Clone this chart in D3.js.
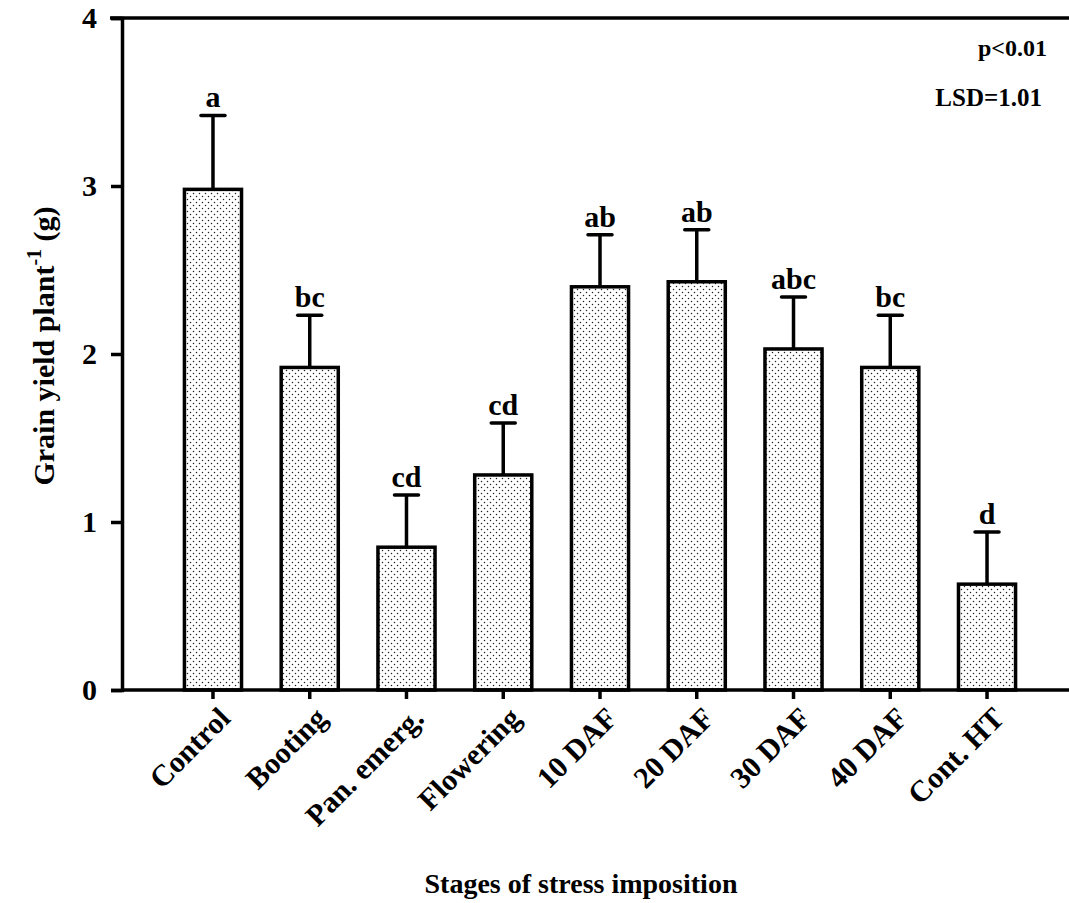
<!DOCTYPE html>
<html><head><meta charset="utf-8">
<script src="https://cdn.jsdelivr.net/npm/d3@7"></script>
<style>body{margin:0;background:#fff}svg{display:block}text{font-family:"Liberation Serif","Times New Roman",serif;font-weight:bold}</style>
</head><body><svg id="c" width="1069" height="903"></svg>
<script>
const categories = ["Control","Booting","Pan. emerg.","Flowering","10 DAF","20 DAF","30 DAF","40 DAF","Cont. HT"];
const yieldValues = [2.98, 1.92, 0.85, 1.28, 2.40, 2.43, 2.03, 1.92, 0.63];
const errorValues = [0.44, 0.31, 0.31, 0.31, 0.31, 0.31, 0.31, 0.31, 0.31];
const letters = ["a","bc","cd","cd","ab","ab","abc","bc","d"];
const yTicks = [0,1,2,3,4];

const svg = d3.select("#c");
const y = d3.scaleLinear().domain([0,4]).range([690,18]);
const x = d3.scaleBand().domain(categories).range([164.6,1035.4]).paddingInner(0.41).paddingOuter(0.205);

const defs = svg.append("defs");
const pat = defs.append("pattern").attr("id","dots").attr("patternUnits","userSpaceOnUse").attr("width",6).attr("height",6);
pat.append("rect").attr("width",6).attr("height",6).attr("fill","#fff");
pat.append("circle").attr("cx",1.5).attr("cy",1.5).attr("r",0.75).attr("fill","#222");
pat.append("circle").attr("cx",4.5).attr("cy",4.5).attr("r",0.75).attr("fill","#222");

const data = categories.map((c,i)=>({c, v:yieldValues[i], e:errorValues[i], l:letters[i]}));

// error bars
const eb = svg.append("g");
data.forEach(d=>{
  const cx = x(d.c)+x.bandwidth()/2;
  eb.append("line").attr("x1",cx).attr("x2",cx).attr("y1",y(d.v)).attr("y2",y(d.v+d.e)).attr("stroke","#000").attr("stroke-width",3.5);
  eb.append("line").attr("x1",cx-12).attr("x2",cx+12).attr("y1",y(d.v+d.e)).attr("y2",y(d.v+d.e)).attr("stroke","#000").attr("stroke-width",3.5).attr("stroke-linecap","round");
  eb.append("text").attr("x",cx).attr("y",y(d.v+d.e)-8).attr("text-anchor","middle").attr("font-size",30).text(d.l);
});

// bars
svg.append("g").selectAll("rect").data(data).join("rect")
  .attr("x",d=>x(d.c)).attr("width",x.bandwidth())
  .attr("y",d=>y(d.v)).attr("height",d=>y(0)-y(d.v))
  .attr("fill","url(#dots)").attr("stroke","#000").attr("stroke-width",3.5);

// top frame line
svg.append("line").attr("x1",110).attr("x2",1069).attr("y1",y(4)).attr("y2",y(4)).attr("stroke","#000").attr("stroke-width",3.5);

// y axis
const ya = svg.append("g").attr("transform","translate(122,0)")
  .call(d3.axisLeft(y).tickValues(yTicks).tickFormat(d3.format("d")).tickSize(11).tickPadding(14));
ya.select(".domain").attr("stroke-width",3.5);
ya.selectAll(".tick line").attr("stroke-width",3.5);
ya.selectAll("text").attr("font-size",30).attr("font-family","Liberation Serif").attr("font-weight","bold").attr("fill","#000");

// x axis
const xa = svg.append("g").attr("transform","translate(0,690)")
  .call(d3.axisBottom(x).tickSize(9).tickSizeOuter(0).tickPadding(0));
xa.select(".domain").attr("d","M122,0H1069").attr("stroke-width",3.5);
xa.selectAll(".tick line").attr("stroke-width",3.5);
xa.selectAll(".tick text").attr("font-size",30).attr("font-family","Liberation Serif").attr("font-weight","bold").attr("fill","#000")
  .attr("text-anchor","end").attr("dy",null).attr("y",0)
  .attr("transform","translate(19,30) rotate(-45)");

// axis titles
svg.append("text").attr("x",581).attr("y",893).attr("text-anchor","middle").attr("font-size",28).text("Stages of stress imposition");
const yt = svg.append("text").attr("transform","translate(54,346) rotate(-90)").attr("text-anchor","middle").attr("font-size",30);
yt.append("tspan").text("Grain yield plant");
yt.append("tspan").attr("font-size",20).attr("dy",-13).text("-1");
yt.append("tspan").attr("dy",13).text(" (g)");

// annotations
svg.append("text").attr("x",1047).attr("y",56).attr("text-anchor","end").attr("font-size",24).text("p<0.01");
svg.append("text").attr("x",1042).attr("y",106).attr("text-anchor","end").attr("font-size",25).text("LSD=1.01");
</script></body></html>
